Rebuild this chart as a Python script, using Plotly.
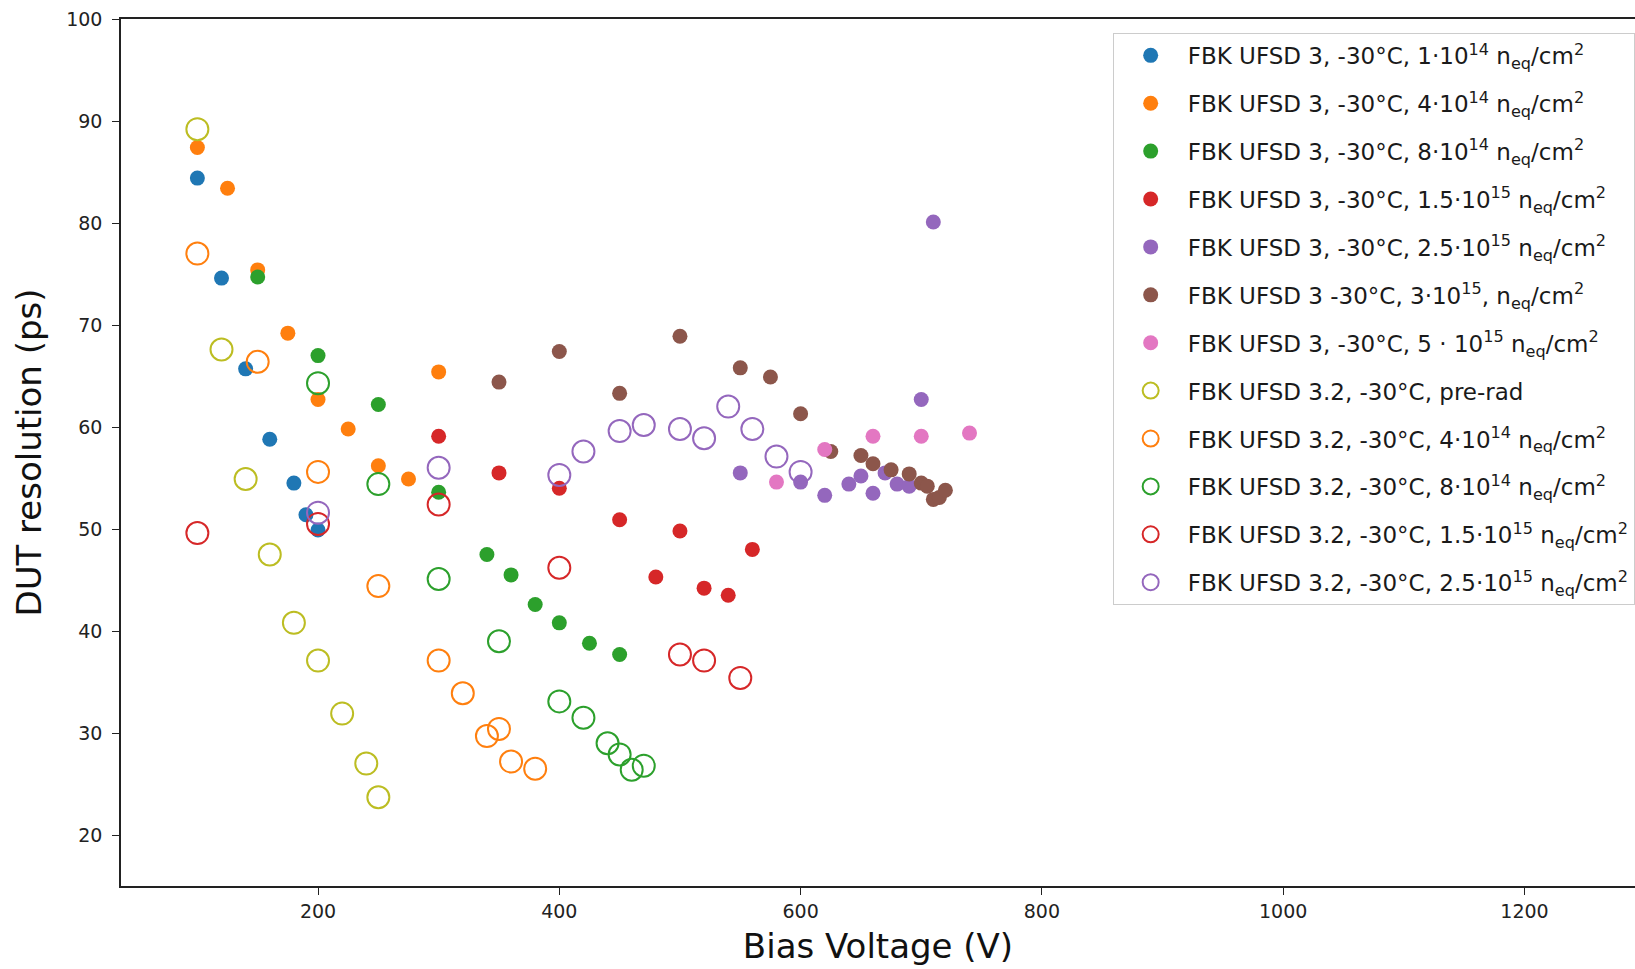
import plotly.graph_objects as go

# ---------------- data ----------------
# FBK UFSD 3 (filled)
v_1e14 = [100, 120, 140, 160, 180, 190, 200]
r_1e14 = [84.4, 74.6, 65.7, 58.8, 54.5, 51.4, 49.9]

v_4e14 = [100, 125, 150, 175, 200, 225, 250, 275, 300]
r_4e14 = [87.4, 83.4, 75.4, 69.2, 62.7, 59.8, 56.2, 54.9, 65.4]

v_8e14 = [150, 200, 250, 300, 340, 360, 380, 400, 425, 450]
r_8e14 = [74.7, 67.0, 62.2, 53.6, 47.5, 45.5, 42.6, 40.8, 38.8, 37.7]

v_15e15 = [300, 350, 400, 450, 480, 500, 520, 540, 560]
r_15e15 = [59.1, 55.5, 54.0, 50.9, 45.3, 49.8, 44.2, 43.5, 48.0]

v_25e15 = [550, 600, 620, 640, 650, 660, 670, 680, 690, 700, 710]
r_25e15 = [55.5, 54.6, 53.3, 54.4, 55.2, 53.5, 55.5, 54.4, 54.2, 62.7, 80.1]

v_3e15 = [350, 400, 450, 500, 550, 575, 600, 625, 650, 660, 675, 690, 700, 705, 710, 715, 720]
r_3e15 = [64.4, 67.4, 63.3, 68.9, 65.8, 64.9, 61.3, 57.6, 57.2, 56.4, 55.8, 55.4, 54.5, 54.2, 52.9, 53.1, 53.8]

v_5e15 = [580, 620, 660, 700, 740]
r_5e15 = [54.6, 57.8, 59.1, 59.1, 59.4]

# FBK UFSD 3.2 (open)
v32_pre = [100, 120, 140, 160, 180, 200, 220, 240, 250]
r32_pre = [89.2, 67.6, 54.9, 47.5, 40.8, 37.1, 31.9, 27.0, 23.7]

v32_4e14 = [100, 150, 200, 250, 300, 320, 340, 350, 360, 380]
r32_4e14 = [77.0, 66.4, 55.6, 44.4, 37.1, 33.9, 29.7, 30.4, 27.2, 26.5]

v32_8e14 = [200, 250, 300, 350, 400, 420, 440, 450, 460, 470]
r32_8e14 = [64.3, 54.4, 45.1, 39.0, 33.1, 31.5, 29.0, 27.9, 26.4, 26.8]

v32_15e15 = [100, 200, 300, 400, 500, 520, 550]
r32_15e15 = [49.6, 50.5, 52.4, 46.2, 37.7, 37.1, 35.4]

v32_25e15 = [200, 300, 400, 420, 450, 470, 500, 520, 540, 560, 580, 600]
r32_25e15 = [51.6, 56.0, 55.3, 57.6, 59.6, 60.2, 59.8, 58.9, 62.0, 59.8, 57.1, 55.6]

NEQ = " n<sub>eq</sub>/cm<sup>2</sup>"
filled = [
    ("FBK UFSD 3, -30°C, 1·10<sup>14</sup>" + NEQ, v_1e14, r_1e14, "#1f77b4"),
    ("FBK UFSD 3, -30°C, 4·10<sup>14</sup>" + NEQ, v_4e14, r_4e14, "#ff7f0e"),
    ("FBK UFSD 3, -30°C, 8·10<sup>14</sup>" + NEQ, v_8e14, r_8e14, "#2ca02c"),
    ("FBK UFSD 3, -30°C, 1.5·10<sup>15</sup>" + NEQ, v_15e15, r_15e15, "#d62728"),
    ("FBK UFSD 3, -30°C, 2.5·10<sup>15</sup>" + NEQ, v_25e15, r_25e15, "#9467bd"),
    ("FBK UFSD 3 -30°C, 3·10<sup>15</sup>," + NEQ, v_3e15, r_3e15, "#8c564b"),
    ("FBK UFSD 3, -30°C, 5 · 10<sup>15</sup>" + NEQ, v_5e15, r_5e15, "#e377c2"),
]
opened = [
    ("FBK UFSD 3.2, -30°C, pre-rad", v32_pre, r32_pre, "#bcbd22"),
    ("FBK UFSD 3.2, -30°C, 4·10<sup>14</sup>" + NEQ, v32_4e14, r32_4e14, "#ff7f0e"),
    ("FBK UFSD 3.2, -30°C, 8·10<sup>14</sup>" + NEQ, v32_8e14, r32_8e14, "#2ca02c"),
    ("FBK UFSD 3.2, -30°C, 1.5·10<sup>15</sup>" + NEQ, v32_15e15, r32_15e15, "#d62728"),
    ("FBK UFSD 3.2, -30°C, 2.5·10<sup>15</sup>" + NEQ, v32_25e15, r32_25e15, "#9467bd"),
]

FONT = "DejaVu Sans"
fig = go.Figure()
for i, (name, x, y, c) in enumerate(filled):
    fig.add_trace(go.Scatter(
        x=x, y=y, mode="markers", name=name, legendgroup=f"g{i}",
        marker=dict(symbol="circle", size=15, color=c, line=dict(width=0)),
    ))
for j, (name, x, y, c) in enumerate(opened):
    fig.add_trace(go.Scatter(
        x=x, y=y, mode="markers", name=name, legendgroup=f"h{j}",
        marker=dict(symbol="circle-open", size=22, color=c, line=dict(width=2, color=c)),
    ))

fig.update_layout(
    width=1635, height=969,
    margin=dict(l=121, r=0, t=19, b=83, autoexpand=False),
    paper_bgcolor="white", plot_bgcolor="white",
    font=dict(family=FONT, size=19, color="black"),
    showlegend=True,
    legend=dict(
        x=0.655, y=0.984, xanchor="left", yanchor="top",
        bgcolor="white", bordercolor="#cccccc", borderwidth=1,
        font=dict(family=FONT, size=23, color="#1a1a1a"),
        tracegroupgap=15, itemwidth=64,
    ),
    xaxis=dict(
        range=[36.7, 1291.6], tickvals=[200, 400, 600, 800, 1000, 1200],
        showgrid=False, zeroline=False, showline=True, linecolor="#222", linewidth=1.5,
        mirror=True, ticks="outside", ticklen=7, tickwidth=1.3, tickcolor="#222",
        tickfont=dict(family=FONT, size=19, color="#222"),
        title=dict(text="Bias Voltage (V)", font=dict(family=FONT, size=34, color="#111"), standoff=14),
    ),
    yaxis=dict(
        range=[15, 100], tickvals=[20, 30, 40, 50, 60, 70, 80, 90, 100],
        showgrid=False, zeroline=False, showline=True, linecolor="#222", linewidth=1.5,
        ticks="outside", ticklen=7, tickwidth=1.3, tickcolor="#222", ticklabelstandoff=6,
        tickfont=dict(family=FONT, size=19, color="#222"),
        title=dict(text="DUT resolution (ps)", font=dict(family=FONT, size=34, color="#111"), standoff=14),
    ),
)
fig.write_html("out.html")
